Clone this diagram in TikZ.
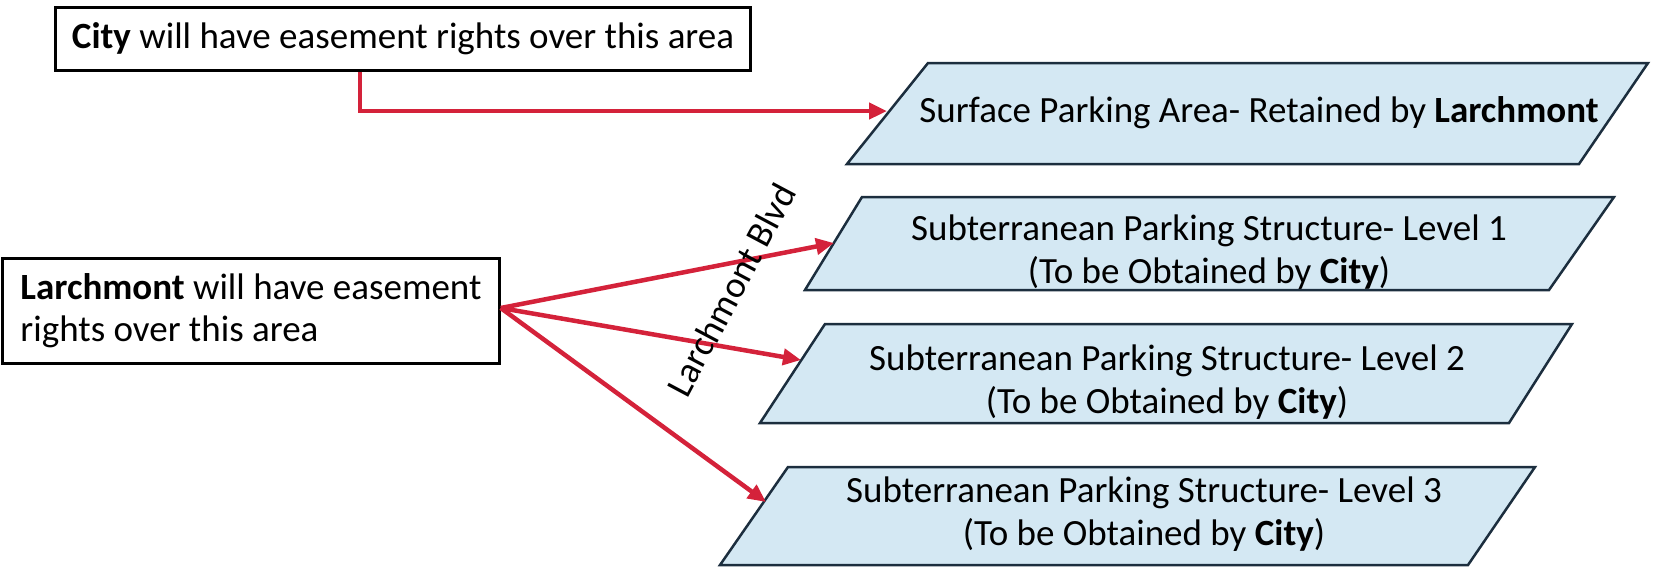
\documentclass[tikz,border=0pt]{standalone}
\usepackage{fontspec}
\setmainfont{Carlito}
\usetikzlibrary{arrows.meta}
\definecolor{easered}{RGB}{212,34,58}
\definecolor{parfill}{RGB}{212,232,243}
\definecolor{parline}{RGB}{28,46,62}
\tikzset{
  notebox/.style={draw=black, line width=2.5pt, fill=white, inner sep=0pt, font=\fontsize{37}{42}\selectfont},
  partext/.style={align=center, inner sep=0pt, font=\fontsize{37}{43}\selectfont},
  parshape/.style={draw=parline, line width=2.5pt, fill=parfill},
  easement/.style={draw=easered, line width=4.5pt, -{Triangle[length=18pt,width=16pt]}},
}
\begin{document}
\begin{tikzpicture}[x=1pt,y=-1pt]
        \useasboundingbox (0,0) rectangle (1654,571);
        % the four areas
        \draw[parshape] (928,63) -- (1648,63) -- (1579,164) -- (847,164) -- cycle;
        \draw[parshape] (862,197) -- (1614,197) -- (1549,290) -- (805,290) -- cycle;
        \draw[parshape] (825,324) -- (1572,324) -- (1509,423) -- (760,423) -- cycle;
        \draw[parshape] (788,467) -- (1535,467) -- (1468,565) -- (720,565) -- cycle;
        \node[partext] (surf) at (1259,113) {Surface Parking Area- Retained by \textbf{Larchmont}};
        \node[partext] (lev1) at (1209,252) {Subterranean Parking Structure- Level 1\\(To be Obtained by \textbf{City})};
        \node[partext] (lev2) at (1167,382) {Subterranean Parking Structure- Level 2\\(To be Obtained by \textbf{City})};
        \node[partext] (lev3) at (1144,514) {Subterranean Parking Structure- Level 3\\(To be Obtained by \textbf{City})};
        \coordinate (surfin) at (887,111);
        \coordinate (lev1in) at (834,243);
        \coordinate (lev2in) at (801,360);
        \coordinate (lev3in) at (766,502);
        % easement notes
        \node[notebox, minimum width=695, minimum height=63] (city) at (403,39) {\textbf{City} will have easement rights over this area};
        \node[notebox, minimum width=497, minimum height=105, align=left] (larch) at (251,311) {\textbf{Larchmont} will have easement\\rights over this area};
        \draw[easement] ([xshift=-43pt]city.south) |- (surfin);
        \draw[easement] ([yshift=3pt]larch.east) -- (lev1in);
        \draw[easement] ([yshift=3pt]larch.east) -- (lev2in);
        \draw[easement] ([yshift=3pt]larch.east) -- (lev3in);
        \node[rotate=62, font=\fontsize{37}{40}\selectfont] (blvd) at (731,290) {Larchmont Blvd};
\end{tikzpicture}
\end{document}
